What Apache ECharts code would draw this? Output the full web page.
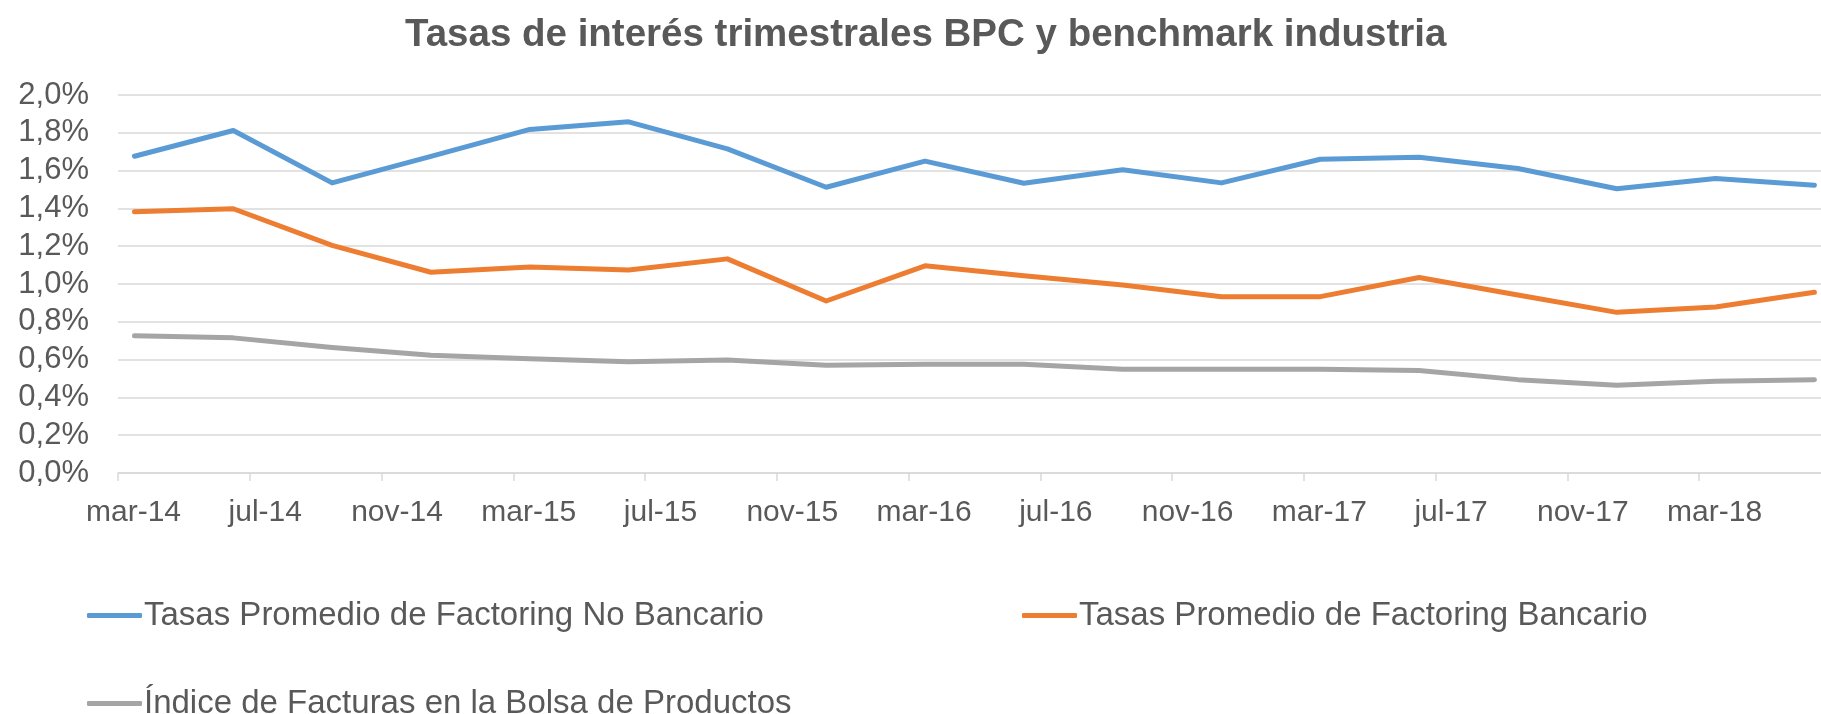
<!DOCTYPE html>
<html>
<head>
<meta charset="utf-8">
<title>Tasas de interés trimestrales BPC y benchmark industria</title>
<script src="https://cdn.jsdelivr.net/npm/echarts@6.0.0/dist/echarts.min.js"></script>
<style>
  html, body { margin: 0; padding: 0; background: #fff; }
  #chart { width: 1821px; height: 714px; }
</style>
</head>
<body>
<div id="chart"></div>
<script>
// trimestres (fin de trimestre)
var trimestres = ["mar-14", "jun-14", "sep-14", "dic-14", "mar-15", "jun-15", "sep-15", "dic-15", "mar-16",
    "jun-16", "sep-16", "dic-16", "mar-17", "jun-17", "sep-17", "dic-17", "mar-18", "jun-18"];

// etiquetas del eje x, una cada 4 meses
var etiquetas = ["mar-14", "jul-14", "nov-14", "mar-15", "jul-15", "nov-15", "mar-16", "jul-16", "nov-16",
    "mar-17", "jul-17", "nov-17", "mar-18"];

var nombres = [
    "Tasas Promedio de Factoring No Bancario",
    "Tasas Promedio de Factoring Bancario",
    "Índice de Facturas en la Bolsa de Productos"
];

// valores en %
var noBancario = [1.676, 1.812, 1.535, 1.675, 1.818, 1.858, 1.715, 1.512, 1.650, 1.533, 1.604, 1.535,
    1.660, 1.671, 1.611, 1.504, 1.558, 1.522];
var bancario = [1.382, 1.398, 1.204, 1.062, 1.090, 1.074, 1.133, 0.910, 1.096, 1.044, 0.995, 0.933,
    0.933, 1.034, 0.942, 0.850, 0.878, 0.956];
var indice = [0.726, 0.715, 0.664, 0.623, 0.605, 0.588, 0.598, 0.570, 0.575, 0.575, 0.549, 0.549,
    0.549, 0.542, 0.494, 0.464, 0.485, 0.494];

var colores = ["#5B9BD5", "#ED7D31", "#A5A5A5"];
var meses = ["ene", "feb", "mar", "abr", "may", "jun", "jul", "ago", "sep", "oct", "nov", "dic"];
var fuente = "Liberation Sans, Arial, sans-serif";
var gris = "#595959";

// "mar-14" -> meses desde el inicio de mar-14 (centro del mes)
function mesIndex(s) {
    var p = s.split("-");
    return (parseInt(p[1], 10) - 14) * 12 + meses.indexOf(p[0]) - 2 + 0.5;
}

function serie(nombre, valores, color) {
    return {
        name: nombre,
        type: "line",
        showSymbol: false,
        symbol: "none",
        lineStyle: { color: color, width: 5, cap: "round", join: "round" },
        itemStyle: { color: color },
        data: valores.map(function(v, i) {
            return [mesIndex(trimestres[i]), v];
        }),
        animation: false
    };
}

var myChart = echarts.init(document.getElementById("chart"));
var option = {
    backgroundColor: "#fff",
    title: {
        text: "Tasas de interés trimestrales BPC y benchmark industria",
        left: 400,
        top: 11,
        textStyle: { fontFamily: fuente, fontSize: 38.5, fontWeight: "bold", color: gris }
    },
    grid: { left: 118, right: 0, top: 95, bottom: 241 },
    xAxis: {
        type: "value",
        min: 0,
        max: 51.7,
        interval: 4,
        axisLine: { show: true, lineStyle: { color: "#D9D9D9", width: 1.5 } },
        axisTick: { show: true, length: 8, lineStyle: { color: "#D9D9D9", width: 1.5 } },
        splitLine: { show: false },
        axisLabel: {
            showMaxLabel: false,
            margin: 25,
            padding: [0, 0, 0, 31],
            fontFamily: fuente,
            fontSize: 30,
            color: gris,
            formatter: function(v) {
                if (v % 4 !== 0) return "";
                return etiquetas[v / 4] || "";
            }
        }
    },
    yAxis: {
        type: "value",
        min: 0,
        max: 2,
        interval: 0.2,
        axisLine: { show: false },
        axisTick: { show: false },
        splitLine: { lineStyle: { color: "#D9D9D9", width: 1.5 } },
        axisLabel: {
            margin: 29,
            fontFamily: fuente,
            fontSize: 31,
            color: gris,
            formatter: function(v) {
                return v.toFixed(1).replace(".", ",") + "%";
            }
        }
    },
    legend: [
        { data: [nombres[0]], left: 87, top: 599 },
        { data: [nombres[1]], left: 1022, top: 599 },
        { data: [nombres[2]], left: 87, top: 687 }
    ].map(function(l) {
        l.icon = "roundRect";
        l.padding = 0;
        l.itemWidth = 55;
        l.itemHeight = 5;
        l.itemGap = 0;
        l.textStyle = { fontFamily: fuente, fontSize: 33, color: gris, padding: [0, 0, 0, -3] };
        return l;
    }),
    series: [
        serie(nombres[0], noBancario, colores[0]),
        serie(nombres[1], bancario, colores[1]),
        serie(nombres[2], indice, colores[2])
    ]
};
myChart.setOption(option);
</script>
</body>
</html>
